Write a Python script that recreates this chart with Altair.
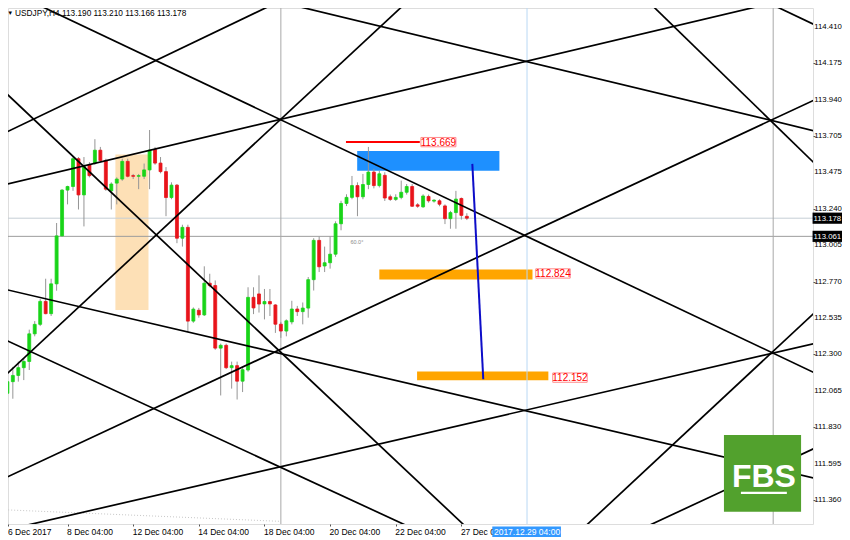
import altair as alt
import pandas as pd

# ---------------- data (bar index = H4 bar number, prices in JPY) ----------------
bar_index = list(range(86))
opens = [112.450, 112.050, 112.125, 112.165, 112.215, 112.255, 112.433, 112.494, 112.642, 112.563,
         112.755, 113.064, 113.359, 113.382, 113.561, 113.328, 113.522, 113.533, 113.616, 113.550,
         113.354, 113.404, 113.430, 113.544, 113.452, 113.448, 113.448, 113.489, 113.620, 113.533,
         113.478, 113.311, 113.391, 113.049, 113.119, 112.515, 112.585, 112.555, 112.759, 112.744,
         112.341, 112.359, 112.215, 112.228, 112.128, 112.200, 112.668, 112.690, 112.626, 112.641,
         112.619, 112.495, 112.451, 112.510, 112.593, 112.576, 112.599, 112.782, 113.035, 112.870,
         112.891, 112.946, 113.142, 113.273, 113.312, 113.388, 113.316, 113.395, 113.475, 113.388,
         113.454, 113.316, 113.299, 113.312, 113.345, 113.382, 113.264, 113.251, 113.318, 113.288,
         113.290, 113.257, 113.175, 113.214, 113.305, 113.190]
highs = [112.460, 112.150, 112.220, 112.255, 112.275, 112.460, 112.515, 112.657, 112.788, 112.788,
         113.147, 113.365, 113.387, 113.572, 113.572, 113.572, 113.539, 113.687, 113.637, 113.561,
         113.409, 113.441, 113.561, 113.561, 113.463, 113.463, 113.530, 113.746, 113.637, 113.572,
         113.507, 113.409, 113.398, 113.136, 113.136, 112.603, 112.600, 112.868, 112.820, 112.777,
         112.370, 112.370, 112.254, 112.254, 112.221, 112.733, 112.733, 112.810, 112.722, 112.722,
         112.624, 112.510, 112.526, 112.646, 112.613, 112.635, 112.799, 113.049, 113.060, 112.995,
         113.060, 113.158, 113.290, 113.332, 113.450, 113.409, 113.463, 113.637, 113.496, 113.485,
         113.474, 113.330, 113.332, 113.420, 113.398, 113.398, 113.275, 113.332, 113.330, 113.300,
         113.300, 113.267, 113.225, 113.354, 113.311, 113.210]
lows = [112.045, 111.975, 112.015, 112.125, 112.135, 112.200, 112.417, 112.483, 112.559, 112.548,
        112.711, 113.060, 113.267, 113.354, 113.234, 113.125, 113.441, 113.522, 113.544, 113.354,
        113.234, 113.267, 113.419, 113.441, 113.430, 113.365, 113.430, 113.365, 113.522, 113.467,
        113.191, 113.300, 113.017, 112.995, 112.446, 112.504, 112.537, 112.548, 112.733, 112.330,
        112.036, 112.206, 112.080, 112.010, 112.058, 112.189, 112.560, 112.570, 112.526, 112.548,
        112.439, 112.407, 112.417, 112.494, 112.548, 112.494, 112.537, 112.712, 112.831, 112.831,
        112.853, 112.929, 113.100, 113.256, 113.300, 113.191, 113.300, 113.365, 113.370, 113.376,
        113.289, 113.289, 113.289, 113.300, 113.330, 113.250, 113.245, 113.245, 113.278, 113.278,
        113.255, 113.140, 113.110, 113.110, 113.169, 113.166]
closes = [112.065, 112.125, 112.165, 112.215, 112.255, 112.433, 112.494, 112.642, 112.563, 112.755,
          113.064, 113.359, 113.382, 113.561, 113.328, 113.511, 113.452, 113.616, 113.550, 113.365,
          113.398, 113.430, 113.544, 113.448, 113.448, 113.452, 113.489, 113.616, 113.533, 113.478,
          113.311, 113.391, 113.049, 113.119, 112.515, 112.592, 112.555, 112.759, 112.744, 112.341,
          112.359, 112.215, 112.228, 112.128, 112.202, 112.668, 112.600, 112.625, 112.641, 112.626,
          112.495, 112.451, 112.517, 112.593, 112.576, 112.599, 112.782, 113.035, 112.865, 112.891,
          112.946, 113.142, 113.273, 113.312, 113.388, 113.316, 113.395, 113.475, 113.388, 113.464,
          113.308, 113.299, 113.312, 113.345, 113.382, 113.255, 113.255, 113.321, 113.290, 113.294,
          113.268, 113.175, 113.214, 113.301, 113.196, 113.178]

x_tick_bars = [1.2, 12, 24, 36, 48, 60, 72, 84]
x_tick_labels = ["6 Dec 2017", "8 Dec 04:00", "12 Dec 04:00", "14 Dec 04:00",
                 "18 Dec 04:00", "20 Dec 04:00", "22 Dec 04:00", "27 Dec 0"]
y_tick_values = [114.410, 114.175, 113.940, 113.705, 113.475, 113.240, 113.005,
                 112.770, 112.535, 112.300, 112.065, 111.830, 111.595, 111.360]
y_tick_labels = ["114.410", "114.175", "113.940", "113.705", "113.475", "113.240", "113.005",
                 "112.770", "112.535", "112.300", "112.065", "111.830", "111.595", "111.360"]

# drawn straight lines (bar, price) -> (bar, price)
line_names = ["A", "C", "F", "D", "G", "H", "I", "J", "K", "E", "L", "M", "N", "O"]
line_bar1 = [-2, -2, -2, -2, -2, -2, -2, -2, -2, -2, 110, 104, 116, 138]
line_price1 = [114.075, 113.685, 114.697, 113.373, 112.437, 112.741, 112.080,
               111.462, 111.147, 115.019, 114.853, 111.106, 111.161, 114.601]
line_bar2 = [150, 150, 150, 150, 150, 150, 150, 150, 150, 150, 150, 150, 150, 150]
line_price2 = [109.024, 116.251, 112.158, 114.640, 109.958, 111.491, 117.059,
               113.964, 112.382, 113.728, 113.482, 112.617, 111.719, 114.400]

zone_names = ["highlight", "supply", "target1", "target2"]
zone_bar1 = [20.75, 64.95, 69.0, 75.9]
zone_bar2 = [26.8, 90.95, 97.0, 99.9]
zone_top = [113.589, 113.611, 112.848, 112.190]
zone_bottom = [112.587, 113.484, 112.783, 112.134]

vline_bars = [51, 141]
crosshair_bar = [96]
hline_names = ["bid", "cross"]
hline_prices = [113.178, 113.061]

red_level_bars = [62.9, 76.4]
red_level_price = 113.669
arrow_bars = [86.0, 88.0]
arrow_prices = [113.528, 112.140]

level_texts = ["113.669", "112.824", "112.152"]
level_box_bar1 = [76.6, 97.6, 100.7]
level_box_bar2 = [83.0, 103.9, 107.0]
level_center = [113.668, 112.822, 112.151]

tag_texts = ["113.178", "113.061"]
tag_prices = [113.178, 113.061]

faint_bars = [-0.5, 51]
faint_prices = [111.301, 111.225]

header_text = "USDJPY,H4  113.190 113.210 113.166 113.178"

# logo (in chart coordinates)
logo_bars = [132.0, 146.1]
logo_prices = [111.781, 111.287]
shadow_bars = [135.1, 138.4, 143.5, 143.5, 146.1]
shadow_top = [111.401, 111.401, 111.401, 111.685, 111.594]
shadow_bottom = [111.401, 111.287, 111.287, 111.287, 111.287]
underline_bars = [135.1, 143.5]
underline_prices = [111.416, 111.401]

# ---------------- chart ----------------
XS = alt.Scale(domain=[1.115, 148.28], nice=False, zero=False)
YS = alt.Scale(domain=[111.208, 114.532], nice=False, zero=False)
FONT = "Liberation Sans"
GREEN = "#19D419"
RED = "#E8141B"


def X(f):
    return alt.X(f, type="quantitative", scale=XS)


def Y(f):
    return alt.Y(f, type="quantitative", scale=YS)


label_expr = " : ".join(f"datum.value === {v} ? '{t}'" for v, t in zip(x_tick_bars, x_tick_labels)) + " : ''"

candles = pd.DataFrame({"i": bar_index, "o": opens, "h": highs, "l": lows, "c": closes})
cbase = alt.Chart(candles).transform_calculate(
    dir="datum.c >= datum.o ? 'up' : 'down'",
    x_lo="datum.i - 0.27",
    x_hi="datum.i + 0.27",
)

# invisible first layer that carries the (explicit) axes
axes_layer = cbase.mark_rule(opacity=0).encode(
    x=alt.X("i:Q", scale=XS, axis=alt.Axis(
        values=x_tick_bars, labelExpr=label_expr, title=None, grid=False, domain=False,
        tickSize=2, tickColor="#555555", labelAlign="left", labelFlush=False, labelOverlap=False,
        labelPadding=1, labelFontSize=8.5, labelFont=FONT, labelColor="#000000", labelOffset=-1,
        orient="bottom")),
    y=alt.Y("l:Q", scale=YS, axis=alt.Axis(
        orient="right", values=y_tick_values, labels=False, title=None, grid=False,
        domain=False, tickSize=2, tickColor="#555555")),
)

ylab_df = pd.DataFrame({"p": y_tick_values, "t": y_tick_labels})
ylabels = alt.Chart(ylab_df).transform_calculate(b="148.5").mark_text(
    color="#000000", fontSize=7.8, font=FONT, align="left", baseline="middle").encode(
    x=X("b:Q"), y=Y("p:Q"), text="t:N")

wicks = cbase.mark_rule(color="#959595", strokeWidth=1, clip=True).encode(
    x=X("i"), y=Y("l"), y2="h")

cscale = alt.Scale(domain=["up", "down"], range=[GREEN, RED])
bodies = cbase.mark_rect(strokeWidth=0.8, clip=True).encode(
    x=X("x_lo"), x2="x_hi", y=Y("o"), y2="c",
    color=alt.Color("dir:N", scale=cscale, legend=None),
    stroke=alt.Stroke("dir:N", scale=cscale, legend=None),
)

zones_df = pd.DataFrame({"name": zone_names, "b1": zone_bar1, "b2": zone_bar2,
                         "top": zone_top, "bottom": zone_bottom})
zones = alt.Chart(zones_df).mark_rect(clip=True).encode(
    x=X("b1"), x2="b2", y=Y("top"), y2="bottom",
    color=alt.Color("name:N", scale=alt.Scale(domain=zone_names,
                    range=["#FDE0B6", "#1E90FF", "#FFA500", "#FFA500"]), legend=None),
)

hl_df = pd.DataFrame({"name": hline_names, "p": hline_prices})
hlines = alt.Chart(hl_df).mark_rule(strokeWidth=1, clip=True).encode(
    y=Y("p"),
    color=alt.Color("name:N", scale=alt.Scale(domain=hline_names, range=["#C6CED6", "#9C9C9C"]), legend=None),
)

vlines = alt.Chart(pd.DataFrame({"b": vline_bars})).mark_rule(
    strokeWidth=1, color="#A8A8A8", clip=True).encode(x=X("b"))
cross = alt.Chart(pd.DataFrame({"b": crosshair_bar})).mark_rule(
    strokeWidth=1, color="#B9D8F4", clip=True).encode(x=X("b"))

faint = alt.Chart(pd.DataFrame({"b1": [faint_bars[0]], "b2": [faint_bars[1]],
                                "p1": [faint_prices[0]], "p2": [faint_prices[1]]})).mark_rule(
    strokeWidth=1, color="#C8C8C8", strokeDash=[1, 2], clip=True).encode(
    x=X("b1"), x2="b2", y=Y("p1"), y2="p2")

lines_df = pd.DataFrame({"name": line_names, "b1": line_bar1, "p1": line_price1,
                         "b2": line_bar2, "p2": line_price2})
lines = alt.Chart(lines_df).mark_rule(color="#000000", strokeWidth=1.7, clip=True).encode(
    x=X("b1"), x2="b2", y=Y("p1"), y2="p2")

red_level = alt.Chart(pd.DataFrame({"b1": [red_level_bars[0]], "b2": [red_level_bars[1]],
                                    "p": [red_level_price]})).mark_rule(
    color="#FF0000", strokeWidth=2, clip=True).encode(x=X("b1"), x2="b2", y=Y("p"))

arrow = alt.Chart(pd.DataFrame({"b1": [arrow_bars[0]], "b2": [arrow_bars[1]],
                                "p1": [arrow_prices[0]], "p2": [arrow_prices[1]]})).mark_rule(
    color="#0D0DC8", strokeWidth=2, clip=True).encode(x=X("b1"), x2="b2", y=Y("p1"), y2="p2")

lv_df = pd.DataFrame({"t": level_texts, "b1": level_box_bar1, "b2": level_box_bar2, "p": level_center})
lv_base = alt.Chart(lv_df).transform_calculate(
    mid="(datum.b1 + datum.b2) / 2", top="datum.p + 0.030", bot="datum.p - 0.030")
lv_boxes = lv_base.mark_rect(fill="#FFFFFF", stroke="#FF8C8C", strokeWidth=1).encode(
    x=X("b1"), x2="b2", y=Y("top"), y2="bot")
lv_text = lv_base.mark_text(color="#FF0000", fontSize=10, font=FONT, align="center",
                            baseline="middle", dy=0.5).encode(x=X("mid"), y=Y("p"), text="t:N")

angle_txt = alt.Chart(pd.DataFrame({"b": [64.9], "p": [113.024], "t": ["60.0°"]})).mark_text(
    color="#8A8A8A", fontSize=5.5, font=FONT, align="center", baseline="middle").encode(
    x=X("b"), y=Y("p"), text="t:N")

header = alt.Chart(pd.DataFrame({"b": [2.4], "p": [114.495], "t": [header_text]})).mark_text(
    color="#000000", fontSize=8.3, font=FONT, align="left", baseline="middle").encode(
    x=X("b"), y=Y("p"), text="t:N")
header_tri = alt.Chart(pd.DataFrame({"b": [1.5], "p": [114.497], "t": ["▼"]})).mark_text(
    color="#000000", fontSize=6, font=FONT, align="center", baseline="middle").encode(
    x=X("b"), y=Y("p"), text="t:N")

tag_df = pd.DataFrame({"t": tag_texts, "p": tag_prices})
tag_base = alt.Chart(tag_df).transform_calculate(
    b1="148.2", b2="153.6", mid="150.9", top="datum.p + 0.036", bot="datum.p - 0.036")
tag_boxes = tag_base.mark_rect(fill="#000000").encode(x=X("b1"), x2="b2", y=Y("top"), y2="bot")
tag_text = tag_base.mark_text(color="#FFFFFF", fontSize=7.8, font=FONT, align="center",
                              baseline="middle", dy=0.5).encode(x=X("mid"), y=Y("p"), text="t:N")

time_df = pd.DataFrame({"b1": [89.65], "b2": [102.2], "p1": [111.192], "p2": [111.124],
                        "mid": [crosshair_bar[0]], "pm": [111.158], "t": ["2017.12.29 04:00"]})
time_box = alt.Chart(time_df).mark_rect(fill="#3399FF").encode(x=X("b1"), x2="b2", y=Y("p1"), y2="p2")
time_text = alt.Chart(time_df).mark_text(color="#FFFFFF", fontSize=8.5, font=FONT, align="center",
                                         baseline="middle", dy=0.5).encode(x=X("mid"), y=Y("pm"), text="t:N")

logo_sq = alt.Chart(pd.DataFrame({"b1": [logo_bars[0]], "b2": [logo_bars[1]],
                                  "p1": [logo_prices[0]], "p2": [logo_prices[1]]})).mark_rect(
    fill="#52A12D").encode(x=X("b1"), x2="b2", y=Y("p1"), y2="p2")
shadow = alt.Chart(pd.DataFrame({"b": shadow_bars, "top": shadow_top, "bot": shadow_bottom,
                                 "k": list(range(len(shadow_bars)))})).mark_area(
    color="#2F6E1C", opacity=1).encode(x=X("b"), y=Y("top"), y2="bot", order="k:Q")
underline = alt.Chart(pd.DataFrame({"b1": [underline_bars[0]], "b2": [underline_bars[1]],
                                    "p1": [underline_prices[0]], "p2": [underline_prices[1]]})).mark_rect(
    fill="#FFFFFF").encode(x=X("b1"), x2="b2", y=Y("p1"), y2="p2")
logo_text = alt.Chart(pd.DataFrame({"b": [139.3], "p": [111.448], "t": ["FBS"]})).mark_text(
    color="#FFFFFF", fontSize=32, font=FONT, fontWeight="bold", align="center",
    baseline="alphabetic").encode(x=X("b"), y=Y("p"), text="t:N")

chart = alt.layer(
    axes_layer, zones, hlines, vlines, cross, faint, wicks, bodies, lines, red_level, arrow,
    lv_boxes, lv_text, angle_txt, header_tri, header, ylabels, tag_boxes, tag_text, time_box, time_text,
    logo_sq, shadow, underline, logo_text,
).resolve_scale(color="independent", stroke="independent").properties(
    width=805, height=516,
    autosize=alt.AutoSizeParams(type="none"),
    padding={"left": 0, "top": 0, "right": 29, "bottom": 16},
).configure_view(stroke="#A0A0A0", strokeWidth=1).configure(background="#FFFFFF")

chart.save("out.html", embed_options={"renderer": "svg", "actions": False})
